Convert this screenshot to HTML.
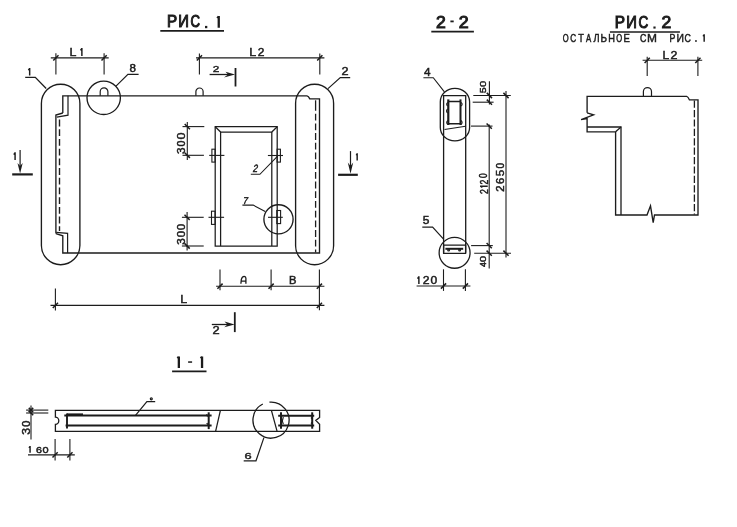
<!DOCTYPE html>
<html><head><meta charset="utf-8"><style>
html,body{margin:0;padding:0;background:#fff;}
svg{display:block;will-change:transform;}
.gR{font-family:"Liberation Sans",sans-serif;fill:#1c1c1c;stroke:#1c1c1c;vector-effect:non-scaling-stroke;}
.gB{font-family:"Liberation Sans",sans-serif;font-weight:bold;fill:#1c1c1c;stroke:#1c1c1c;vector-effect:non-scaling-stroke;}
</style></head><body>
<svg width="737" height="527" viewBox="0 0 737 527">
<rect x="0" y="0" width="737" height="527" fill="#fff"/>
<g fill="none" stroke="#1c1c1c" stroke-width="1.2" stroke-linecap="butt" stroke-linejoin="miter">
<text class="gR" font-size="16.29" stroke-width="1.0" transform="translate(166.90 27.21) scale(0.934 1)">Р</text>
<text class="gR" font-size="16.15" stroke-width="1.0" transform="translate(178.13 27.31) scale(0.915 1)">И</text>
<text class="gR" font-size="16.25" stroke-width="1.0" transform="translate(190.49 27.35) scale(0.807 1)">С</text>
<rect x="205.00" y="25.90" width="2.30" height="2.30" fill="#1c1c1c" stroke="none"/>
<path d="M218.75 16.10 V27.70 M218.75 16.50 L217.30 18.19" stroke-width="2.3"/>
<line x1="160.3" y1="30.9" x2="224" y2="30.9" stroke-width="1.7"/>
<line x1="50.8" y1="57.9" x2="108.7" y2="57.9" stroke-width="1.1"/>
<line x1="55.9" y1="53.2" x2="55.9" y2="74.5" stroke-width="1.1"/>
<line x1="104.1" y1="53.2" x2="104.1" y2="74.5" stroke-width="1.1"/>
<line x1="53.3" y1="60.5" x2="58.5" y2="55.3" stroke-width="1.5"/>
<line x1="101.5" y1="60.5" x2="106.7" y2="55.3" stroke-width="1.5"/>
<text class="gR" font-size="11.13" stroke-width="0.5" transform="translate(69.40 55.75) scale(1.113 1)">L</text>
<path d="M81.88 48.00 V55.90 M81.88 48.40 L80.50 50.37" stroke-width="1.45"/>
<line x1="196" y1="57.9" x2="324.4" y2="57.9" stroke-width="1.1"/>
<line x1="199.4" y1="53.6" x2="199.4" y2="74.6" stroke-width="1.1"/>
<line x1="319.8" y1="53.6" x2="319.8" y2="74.6" stroke-width="1.1"/>
<line x1="196.8" y1="60.5" x2="202.0" y2="55.3" stroke-width="1.5"/>
<line x1="317.2" y1="60.5" x2="322.4" y2="55.3" stroke-width="1.5"/>
<text class="gR" font-size="10.84" stroke-width="0.5" transform="translate(249.20 55.75) scale(1.143 1)">L</text>
<text class="gR" font-size="10.39" stroke-width="0.5" transform="translate(257.73 55.75) scale(1.152 1)">2</text>
<text class="gR" font-size="9.82" stroke-width="0.5" transform="translate(212.84 72.35) scale(1.197 1)">2</text>
<line x1="209.6" y1="74.5" x2="229" y2="74.5" stroke-width="1.3"/>
<path d="M225.5 71.8 L235 74.5 L224 77.6 L228 74.5 Z" fill="#1c1c1c" stroke="none"/>
<line x1="235.5" y1="68" x2="235.5" y2="86.5" stroke-width="1.8"/>
<path d="M62.8 113 V95.8 H307 Q308.5 96 309.8 98.9 H319.5 V253 H62.8 V235.8 L55.9 233.6" stroke-width="1.35"/>
<path d="M62.8 113 L55.9 115 V233.6" stroke-width="1.35"/>
<path d="M68 95.8 V115.2 L56.8 117.2" stroke-width="1.2"/>
<path d="M56.2 232.3 L67.6 233.3 V253" stroke-width="1.2"/>
<line x1="59.5" y1="119.6" x2="59.5" y2="231" stroke-width="1.4" stroke-dasharray="6.8 2.9"/>
<line x1="315.6" y1="100.3" x2="315.6" y2="104" stroke-width="1.3"/>
<line x1="315.6" y1="104" x2="315.6" y2="252.5" stroke-width="1.3" stroke-dasharray="6.8 2.9"/>
<path d="M195.9 95.8 V91.6 A3.6 3.6 0 0 1 203.1 91.6 V95.8" stroke-width="1.2"/>
<path d="M100.2 95.8 V91.7 A3.85 3.85 0 0 1 107.9 91.7 V95.8" stroke-width="1.2"/>
<rect x="41.4" y="84.2" width="38.5" height="180.5" rx="19.25" stroke-width="1.35"/>
<rect x="295.6" y="84.2" width="38" height="180.5" rx="19" stroke-width="1.35"/>
<circle cx="103.7" cy="97.8" r="16.7" stroke-width="1.35"/>
<circle cx="278.5" cy="219.3" r="14.6" stroke-width="1.35"/>
<path d="M29.67 68.00 V75.60 M29.67 68.40 L28.40 70.28" stroke-width="1.45"/>
<path d="M25.2 77.4 H35.3 L46.2 88.5" stroke-width="1.3"/>
<text class="gR" font-size="10.39" stroke-width="0.5" transform="translate(129.53 72.35) scale(1.116 1)">8</text>
<path d="M138.6 74.3 H127.9 L116 86.2" stroke-width="1.2"/>
<text class="gR" font-size="10.11" stroke-width="0.5" transform="translate(341.39 75.45) scale(1.250 1)">2</text>
<path d="M350.2 77.6 H340.3 L328 88.6" stroke-width="1.2"/>
<path d="M215.2 246 V126.7 H277.2 V246 Z" stroke-width="1.25"/>
<path d="M220.6 246 V132 H271.8 V246" stroke-width="1.25"/>
<line x1="215.2" y1="126.7" x2="220.6" y2="132" stroke-width="1.25"/>
<line x1="277.2" y1="126.7" x2="271.8" y2="132" stroke-width="1.25"/>
<rect x="211.9" y="149.2" width="3.2" height="12.9" rx="0" stroke-width="1.1"/>
<rect x="277.1" y="149.2" width="3.3" height="12.9" rx="0" stroke-width="1.1"/>
<rect x="211.5" y="211.2" width="3.6" height="13.2" rx="0" stroke-width="1.1"/>
<rect x="276.8" y="210.5" width="3.8" height="13.1" rx="0" stroke-width="1.1"/>
<line x1="209.2" y1="155.4" x2="224.4" y2="155.4" stroke-width="1.1"/>
<line x1="267.9" y1="155.5" x2="283" y2="155.5" stroke-width="1.1"/>
<line x1="208.5" y1="217.3" x2="224.1" y2="217.3" stroke-width="1.1"/>
<line x1="268" y1="217.3" x2="282.8" y2="217.3" stroke-width="1.1"/>
<line x1="187.3" y1="122" x2="187.3" y2="159.9" stroke-width="1.1"/>
<line x1="182.5" y1="126.6" x2="204.3" y2="126.6" stroke-width="1.1"/>
<line x1="182.5" y1="155.3" x2="203.9" y2="155.3" stroke-width="1.1"/>
<line x1="184.7" y1="124.0" x2="189.9" y2="129.2" stroke-width="1.5"/>
<line x1="184.7" y1="152.7" x2="189.9" y2="157.9" stroke-width="1.5"/>
<text class="gR" font-size="10.95" stroke-width="0.5" transform="translate(185.24 154.01) rotate(-90) scale(1.067 1)">3</text>
<text class="gR" font-size="10.95" stroke-width="0.5" transform="translate(185.24 146.41) rotate(-90) scale(0.985 1)">0</text>
<text class="gR" font-size="10.95" stroke-width="0.5" transform="translate(185.24 139.38) rotate(-90) scale(1.157 1)">0</text>
<line x1="187.1" y1="212.1" x2="187.1" y2="250.6" stroke-width="1.1"/>
<line x1="181.9" y1="217.3" x2="203.7" y2="217.3" stroke-width="1.1"/>
<line x1="181.9" y1="246" x2="203.7" y2="246" stroke-width="1.1"/>
<line x1="184.5" y1="214.7" x2="189.7" y2="219.9" stroke-width="1.5"/>
<line x1="184.5" y1="243.4" x2="189.7" y2="248.6" stroke-width="1.5"/>
<text class="gR" font-size="10.39" stroke-width="0.5" transform="translate(184.55 244.71) rotate(-90) scale(1.125 1)">3</text>
<text class="gR" font-size="10.39" stroke-width="0.5" transform="translate(184.55 237.33) rotate(-90) scale(1.099 1)">0</text>
<text class="gR" font-size="10.39" stroke-width="0.5" transform="translate(184.55 230.14) rotate(-90) scale(1.119 1)">0</text>
<text class="gR" font-size="10.54" stroke-width="0.5" transform="translate(252.60 172.45) skewX(-12) scale(0.811 1)">2</text>
<path d="M250.8 174.3 H259.9 L277.6 156.2" stroke-width="1.1"/>
<text class="gR" font-size="9.67" stroke-width="0.5" transform="translate(242.47 204.15) skewX(-12) scale(0.899 1)">7</text>
<path d="M242.4 205.1 H253.2 L265.2 211.6" stroke-width="1.1"/>
<path d="M15.08 152.30 V160.00 M15.08 152.70 L13.80 154.61" stroke-width="1.45"/>
<line x1="20.1" y1="150" x2="20.1" y2="166" stroke-width="1.2"/>
<path d="M17.5 163 L20.1 173.5 L22.7 163 L20.1 166 Z" fill="#1c1c1c" stroke="none"/>
<line x1="12.2" y1="174.4" x2="32.8" y2="174.4" stroke-width="2.2"/>
<path d="M357.17 153.20 V160.50 M357.17 153.60 L356.30 155.39" stroke-width="1.45"/>
<line x1="350.5" y1="151.1" x2="350.5" y2="166" stroke-width="1.2"/>
<path d="M347.8 162.5 L350.5 173.8 L353.2 162.5 L350.5 166 Z" fill="#1c1c1c" stroke="none"/>
<line x1="338.1" y1="174.8" x2="357.8" y2="174.8" stroke-width="2.2"/>
<line x1="216.1" y1="286.2" x2="324.4" y2="286.2" stroke-width="1.1"/>
<line x1="220" y1="269.4" x2="220" y2="290.3" stroke-width="1.1"/>
<line x1="271.1" y1="269.4" x2="271.1" y2="290.3" stroke-width="1.1"/>
<line x1="319.4" y1="269.4" x2="319.4" y2="310.3" stroke-width="1.1"/>
<line x1="217.4" y1="288.8" x2="222.6" y2="283.6" stroke-width="1.5"/>
<line x1="268.5" y1="288.8" x2="273.7" y2="283.6" stroke-width="1.5"/>
<line x1="316.8" y1="288.8" x2="322.0" y2="283.6" stroke-width="1.5"/>
<path d="M240.9 283.8 L241.3 279.6 Q241.9 276.4 244.3 276.3 Q245.9 276.4 245.9 278.3 V283.8 M241.1 281.1 H245.9" stroke-width="1.3"/>
<text class="gR" font-size="10.11" stroke-width="0.5" transform="translate(289.00 283.65) scale(1.105 1)">B</text>
<line x1="50.5" y1="305.4" x2="324.4" y2="305.4" stroke-width="1.25"/>
<line x1="55.4" y1="288.4" x2="55.4" y2="310.5" stroke-width="1.1"/>
<line x1="52.8" y1="308.0" x2="58.0" y2="302.8" stroke-width="1.5"/>
<line x1="316.8" y1="308.0" x2="322.0" y2="302.8" stroke-width="1.5"/>
<text class="gR" font-size="11.42" stroke-width="0.5" transform="translate(180.30 303.45) scale(1.085 1)">L</text>
<line x1="211.8" y1="324.5" x2="228" y2="324.5" stroke-width="1.3"/>
<path d="M224.5 321.6 L234.6 324.5 L224.3 327.3 L227.5 324.5 Z" fill="#1c1c1c" stroke="none"/>
<line x1="234.8" y1="312.2" x2="234.8" y2="332.1" stroke-width="1.8"/>
<text class="gR" font-size="10.54" stroke-width="0.5" transform="translate(212.38 334.35) scale(1.220 1)">2</text>
<text class="gR" font-size="15.91" stroke-width="1.0" transform="translate(435.97 27.61) scale(1.105 1)">2</text>
<rect x="450.40" y="20.50" width="3.30" height="1.80" fill="#1c1c1c" stroke="none"/>
<text class="gR" font-size="15.91" stroke-width="1.0" transform="translate(458.66 27.61) scale(1.119 1)">2</text>
<line x1="431.3" y1="31.6" x2="473.9" y2="31.6" stroke-width="1.6"/>
<path d="M443.6 252.8 V95.6 H465.7 V252.8" stroke-width="1.3"/>
<path d="M448.3 101.6 H460.5 M448.3 123.8 H460.5" stroke-width="1.5"/>
<line x1="448.3" y1="99.4" x2="448.3" y2="125" stroke-width="2.2"/>
<line x1="460.5" y1="99.4" x2="460.5" y2="125" stroke-width="2.0"/>
<path d="M447.8 102.5 Q445.6 104 447.6 106 M447.6 109 Q445.4 111 447.6 113 M447.8 120.5 Q445.6 122.5 447.8 124.5" stroke-width="1.1"/>
<path d="M461 102.5 Q463.2 104 461.2 106 M461 120.5 Q463.2 122.5 461 124.5" stroke-width="1.1"/>
<line x1="444.5" y1="129.5" x2="465.6" y2="126.3" stroke-width="1.1"/>
<path d="M443.6 245.1 H465.6 V253.3 H443.6 Z" stroke-width="1.3"/>
<line x1="445.4" y1="248.8" x2="463.2" y2="248.8" stroke-width="2.0"/>
<circle cx="448.6" cy="249.9" r="0.9"/>
<circle cx="459.6" cy="249.9" r="0.9"/>
<rect x="440.3" y="88.3" width="29.3" height="52.6" rx="14.6" ry="13.5" stroke-width="1.3"/>
<circle cx="454.6" cy="252.8" r="15.45" stroke-width="1.3"/>
<text class="gR" font-size="10.98" stroke-width="0.5" transform="translate(423.96 75.75) scale(1.073 1)">4</text>
<path d="M423.4 77.7 H433.3 L444.4 91.8" stroke-width="1.1"/>
<text class="gR" font-size="10.54" stroke-width="0.5" transform="translate(422.85 224.44) scale(1.129 1)">5</text>
<path d="M422.3 227.1 H432.6 L443.8 239.4" stroke-width="1.2"/>
<line x1="473.3" y1="95.5" x2="510.8" y2="95.5" stroke-width="1.1"/>
<line x1="472.7" y1="102.2" x2="493.6" y2="102.2" stroke-width="1.1"/>
<line x1="471" y1="126.1" x2="492.5" y2="126.1" stroke-width="1.1"/>
<line x1="471.1" y1="245.6" x2="492.8" y2="245.6" stroke-width="1.1"/>
<line x1="474.2" y1="253.2" x2="511" y2="253.2" stroke-width="1.1"/>
<line x1="489.4" y1="81.3" x2="489.4" y2="104.5" stroke-width="1.1"/>
<line x1="489.2" y1="124.5" x2="489.2" y2="268.4" stroke-width="1.1"/>
<line x1="506" y1="91" x2="506" y2="257.4" stroke-width="1.1"/>
<line x1="486.8" y1="92.9" x2="492.0" y2="98.1" stroke-width="1.5"/>
<line x1="486.8" y1="99.6" x2="492.0" y2="104.8" stroke-width="1.5"/>
<line x1="486.6" y1="123.5" x2="491.8" y2="128.7" stroke-width="1.5"/>
<line x1="486.6" y1="243.0" x2="491.8" y2="248.2" stroke-width="1.5"/>
<line x1="486.6" y1="250.6" x2="491.8" y2="255.8" stroke-width="1.5"/>
<line x1="503.4" y1="92.9" x2="508.6" y2="98.1" stroke-width="1.5"/>
<line x1="503.4" y1="250.6" x2="508.6" y2="255.8" stroke-width="1.5"/>
<text class="gR" font-size="9.82" stroke-width="0.5" transform="translate(486.15 93.20) rotate(-90) scale(1.083 1)">5</text>
<text class="gR" font-size="9.68" stroke-width="0.5" transform="translate(486.15 86.92) rotate(-90) scale(1.157 1)">0</text>
<text class="gR" font-size="10.68" stroke-width="0.5" transform="translate(487.55 193.91) rotate(-90) scale(0.813 1)">2</text>
<path d="M480.00 186.22 H487.70 M480.40 186.22 L482.31 187.50" stroke-width="1.45"/>
<text class="gR" font-size="10.68" stroke-width="0.5" transform="translate(487.55 184.51) rotate(-90) scale(0.813 1)">2</text>
<text class="gR" font-size="10.53" stroke-width="0.5" transform="translate(487.44 177.91) rotate(-90) scale(0.805 1)">0</text>
<text class="gR" font-size="10.82" stroke-width="0.5" transform="translate(503.75 191.64) rotate(-90) scale(1.046 1)">2</text>
<text class="gR" font-size="10.67" stroke-width="0.5" transform="translate(503.64 184.03) rotate(-90) scale(1.043 1)">6</text>
<text class="gR" font-size="10.82" stroke-width="0.5" transform="translate(503.64 176.33) rotate(-90) scale(1.060 1)">5</text>
<text class="gR" font-size="10.67" stroke-width="0.5" transform="translate(503.64 168.38) rotate(-90) scale(0.952 1)">0</text>
<text class="gR" font-size="8.65" stroke-width="0.5" transform="translate(486.25 267.07) rotate(-90) scale(0.995 1)">4</text>
<text class="gR" font-size="8.41" stroke-width="0.5" transform="translate(486.17 262.34) rotate(-90) scale(1.382 1)">0</text>
<line x1="443.5" y1="269.3" x2="443.5" y2="290.9" stroke-width="1.1"/>
<line x1="465.4" y1="269.3" x2="465.4" y2="290.9" stroke-width="1.1"/>
<line x1="416.6" y1="286" x2="470.4" y2="286" stroke-width="1.2"/>
<line x1="440.9" y1="288.6" x2="446.1" y2="283.4" stroke-width="1.5"/>
<line x1="462.8" y1="288.6" x2="468.0" y2="283.4" stroke-width="1.5"/>
<path d="M418.88 276.30 V284.00 M418.88 276.70 L417.50 278.61" stroke-width="1.45"/>
<text class="gR" font-size="10.68" stroke-width="0.5" transform="translate(422.72 283.85) scale(1.142 1)">2</text>
<text class="gR" font-size="10.53" stroke-width="0.5" transform="translate(430.54 283.74) scale(1.144 1)">0</text>
<text class="gR" font-size="16.29" stroke-width="1.0" transform="translate(614.68 27.61) scale(0.945 1)">Р</text>
<text class="gR" font-size="16.29" stroke-width="1.0" transform="translate(626.23 27.71) scale(0.907 1)">И</text>
<text class="gR" font-size="16.25" stroke-width="1.0" transform="translate(638.58 27.65) scale(0.827 1)">С</text>
<rect x="653.40" y="26.50" width="2.20" height="2.10" fill="#1c1c1c" stroke="none"/>
<text class="gR" font-size="16.34" stroke-width="1.0" transform="translate(661.57 27.81) scale(1.076 1)">2</text>
<line x1="609.9" y1="32" x2="679.9" y2="32" stroke-width="1.5"/>
<text class="gR" font-size="10.42" stroke-width="0.45" transform="translate(562.65 41.56) scale(0.727 1)">О</text>
<text class="gR" font-size="10.42" stroke-width="0.45" transform="translate(570.27 41.56) scale(0.785 1)">С</text>
<text class="gR" font-size="10.73" stroke-width="0.45" transform="translate(578.15 41.66) scale(0.854 1)">Т</text>
<text class="gR" font-size="10.73" stroke-width="0.45" transform="translate(586.00 41.66) scale(0.728 1)">А</text>
<text class="gR" font-size="10.61" stroke-width="0.45" transform="translate(593.60 41.58) scale(0.863 1)">Л</text>
<text class="gR" font-size="10.73" stroke-width="0.45" transform="translate(600.55 41.66) scale(0.923 1)">Ь</text>
<text class="gR" font-size="10.73" stroke-width="0.45" transform="translate(608.27 41.66) scale(0.865 1)">Н</text>
<text class="gR" font-size="10.42" stroke-width="0.45" transform="translate(616.34 41.56) scale(0.727 1)">О</text>
<text class="gR" font-size="10.73" stroke-width="0.45" transform="translate(623.59 41.66) scale(0.889 1)">Е</text>
<text class="gR" font-size="10.42" stroke-width="0.45" transform="translate(639.97 41.56) scale(0.846 1)">С</text>
<text class="gR" font-size="10.73" stroke-width="0.45" transform="translate(647.03 41.66) scale(1.114 1)">М</text>
<text class="gR" font-size="10.73" stroke-width="0.45" transform="translate(669.59 41.66) scale(0.818 1)">Р</text>
<text class="gR" font-size="10.73" stroke-width="0.45" transform="translate(676.45 41.66) scale(0.970 1)">И</text>
<text class="gR" font-size="10.42" stroke-width="0.45" transform="translate(684.47 41.56) scale(0.846 1)">С</text>
<rect x="695.10" y="40.20" width="1.70" height="1.60" fill="#1c1c1c" stroke="none"/>
<path d="M704.17 34.20 V41.80 M704.17 34.60 L703.10 36.48" stroke-width="1.45"/>
<line x1="642.6" y1="60.3" x2="702.2" y2="60.3" stroke-width="1.1"/>
<line x1="647.2" y1="56.8" x2="647.2" y2="76.1" stroke-width="1.1"/>
<line x1="697.9" y1="56.8" x2="697.9" y2="76.1" stroke-width="1.1"/>
<line x1="644.6" y1="63.0" x2="649.8" y2="57.8" stroke-width="1.5"/>
<line x1="695.3" y1="63.0" x2="700.5" y2="57.8" stroke-width="1.5"/>
<text class="gR" font-size="10.84" stroke-width="0.5" transform="translate(662.44 58.65) scale(1.101 1)">L</text>
<text class="gR" font-size="10.39" stroke-width="0.5" transform="translate(670.60 58.65) scale(1.195 1)">2</text>
<path d="M643.4 96.2 V91.6 A4.05 4.05 0 0 1 651.5 91.6 V96.2" stroke-width="1.2"/>
<path d="M587.1 112.8 V96.3 H686.7 Q688 96.5 689.5 99.9 H698 V215 H654.5 L653.2 222.7 L650.5 205.8 L647 215 H615.6 V131.8 H587.1 V118.5 L581.1 119.6 L593.6 114.8 L587.1 112.8" stroke-width="1.35"/>
<path d="M587.1 127 H621 V215" stroke-width="1.3"/>
<line x1="621" y1="127" x2="615.6" y2="131.8" stroke-width="1.3"/>
<line x1="694.4" y1="100.6" x2="694.4" y2="214.5" stroke-width="1.3" stroke-dasharray="7.2 2.2"/>
<path d="M178.85 356.40 V368.00 M178.85 356.80 L177.60 358.49" stroke-width="2.3"/>
<rect x="188.10" y="361.30" width="4.00" height="1.50" fill="#1c1c1c" stroke="none"/>
<path d="M202.05 356.40 V368.00 M202.05 356.80 L200.80 358.49" stroke-width="2.3"/>
<line x1="172.1" y1="371.4" x2="206.5" y2="371.4" stroke-width="1.6"/>
<path d="M55.4 410.3 H319.6 V417.5 L315.8 420.4 L319.6 424.3 V431.3 H55.4 V424.4 A3.4 3.65 0 0 0 55.4 417.1 Z" stroke-width="1.3"/>
<line x1="64.3" y1="415.6" x2="211.6" y2="415.6" stroke-width="2.0"/>
<line x1="65.6" y1="425.6" x2="211.6" y2="425.6" stroke-width="2.0"/>
<line x1="67" y1="414.6" x2="83" y2="414.6" stroke-width="2.4"/>
<line x1="67" y1="413.4" x2="67" y2="428.5" stroke-width="1.9"/>
<line x1="208.7" y1="412.3" x2="208.7" y2="429.1" stroke-width="2.0"/>
<path d="M206.6 414.2 L207.6 416.5 M206.8 423 L207.8 424.6" stroke-width="1.3"/>
<line x1="220.4" y1="410.3" x2="215.6" y2="431.3" stroke-width="1.25"/>
<line x1="271.4" y1="410.3" x2="277.1" y2="431.3" stroke-width="1.25"/>
<line x1="278.2" y1="415.8" x2="314.2" y2="415.8" stroke-width="2.0"/>
<line x1="278.2" y1="425.4" x2="314.2" y2="425.4" stroke-width="2.0"/>
<line x1="281" y1="412.3" x2="281" y2="428.7" stroke-width="2.0"/>
<line x1="312.2" y1="412.3" x2="312.2" y2="428.7" stroke-width="2.0"/>
<path d="M283.3 417 Q281.6 420.6 283.3 424.2" stroke-width="1.2"/>
<path d="M311 417.5 L312 418.5 M311 423.6 L312 422.4" stroke-width="1.2"/>
<path d="M269.43 402.12 A18.05 18.05 0 1 1 262.81 404.02" stroke-width="1.3"/>
<text class="gR" font-size="8.98" stroke-width="0.5" transform="translate(244.38 458.56) scale(1.433 1)">6</text>
<path d="M243.7 460.8 H256 L263.9 437.6" stroke-width="1.2"/>
<circle cx="151.3" cy="398.8" r="1.0"/>
<path d="M155.2 401.7 H146.9 L135.5 415.3" stroke-width="1.2"/>
<line x1="26.1" y1="410.1" x2="48.3" y2="410.1" stroke-width="1.1"/>
<line x1="26.1" y1="413" x2="48.3" y2="413" stroke-width="1.1"/>
<line x1="31" y1="405.5" x2="31" y2="439.5" stroke-width="1.1"/>
<line x1="28.8" y1="407.9" x2="33.2" y2="412.3" stroke-width="1.5"/>
<line x1="28.8" y1="412.3" x2="33.2" y2="407.9" stroke-width="1.5"/>
<line x1="28.8" y1="410.8" x2="33.2" y2="415.2" stroke-width="1.5"/>
<text class="gR" font-size="10.95" stroke-width="0.5" transform="translate(29.54 434.84) rotate(-90) scale(1.124 1)">3</text>
<text class="gR" font-size="10.95" stroke-width="0.5" transform="translate(29.54 426.81) rotate(-90) scale(1.004 1)">0</text>
<line x1="55.1" y1="438.9" x2="55.1" y2="460.4" stroke-width="1.1"/>
<line x1="69.9" y1="438.9" x2="69.9" y2="460.4" stroke-width="1.1"/>
<line x1="28" y1="454.9" x2="74.8" y2="454.9" stroke-width="1.1"/>
<line x1="52.5" y1="457.5" x2="57.7" y2="452.3" stroke-width="1.5"/>
<line x1="67.3" y1="457.5" x2="72.5" y2="452.3" stroke-width="1.5"/>
<path d="M30.07 445.90 V452.80 M30.07 446.30 L29.00 447.97" stroke-width="1.45"/>
<text class="gR" font-size="9.40" stroke-width="0.5" transform="translate(35.99 452.56) scale(1.139 1)">6</text>
<text class="gR" font-size="9.40" stroke-width="0.5" transform="translate(42.49 452.56) scale(1.170 1)">0</text>
</g>
</svg>
</body></html>
